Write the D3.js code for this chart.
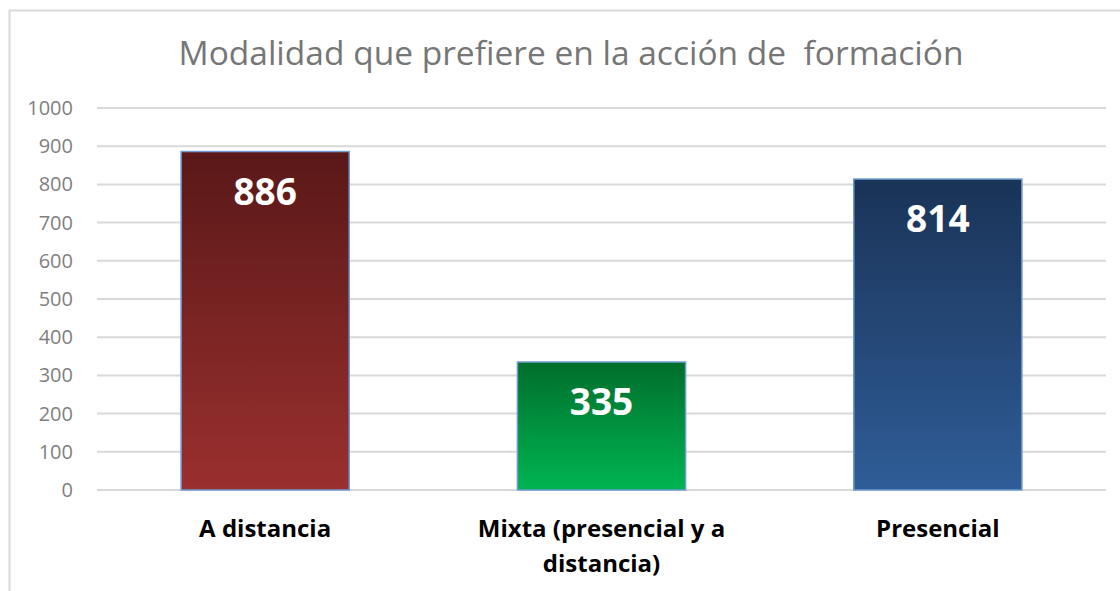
<!DOCTYPE html>
<html>
  <head>
    <meta charset="UTF-8">
    <title>Modalidad</title>
    <script src="https://d3js.org/d3.v7.min.js"></script>
    <style>
      body { margin: 0; background: #fff; }
      text { font-family: "Open Sans", "Noto Sans", sans-serif; }
    </style>
  </head>
  <body>
    <svg id="chart" width="1120" height="591"></svg>
    <script>
      // data
      const categories = ["A distancia", "Mixta (presencial y a distancia)", "Presencial"];
      const categoryLines = [["A distancia"], ["Mixta (presencial y a", "distancia)"], ["Presencial"]];
      const values = [886, 335, 814];
      const yTicks = [0, 100, 200, 300, 400, 500, 600, 700, 800, 900, 1000];
      const gradColors = [["#5a1818", "#9a302f"], ["#006e2c", "#00b552"], ["#1a3357", "#2f5d97"]];

      const svg = d3.select("#chart");
      const margin = { left: 97, right: 14, top: 108, bottom: 101 };
      const W = 1120, H = 591;

      // chart border
      svg.append("path")
        .attr("d", `M9.5,${H} V10.5 H${W}`)
        .attr("fill", "none")
        .attr("stroke", "#d9d9d9")
        .attr("stroke-width", 2);

      const x = d3.scaleBand()
        .domain(categories)
        .range([margin.left, W - margin.right])
        .paddingInner(0.5)
        .paddingOuter(0.25);

      const y = d3.scaleLinear()
        .domain([0, 1000])
        .range([H - margin.bottom, margin.top]);

      // gridlines
      svg.append("g").selectAll("line")
        .data(yTicks)
        .join("line")
        .attr("x1", margin.left)
        .attr("x2", W - margin.right)
        .attr("y1", d => y(d))
        .attr("y2", d => y(d))
        .attr("stroke", "#d9d9d9")
        .attr("stroke-width", 2);

      // y tick labels
      svg.append("g").selectAll("text")
        .data(yTicks)
        .join("text")
        .attr("x", 73)
        .attr("y", d => y(d))
        .attr("dy", "0.35em")
        .attr("text-anchor", "end")
        .attr("font-size", 20)
        .attr("fill", "#7f7f7f")
        .text(d => d);

      // gradients
      const defs = svg.append("defs");
      gradColors.forEach((c, i) => {
        const g = defs.append("linearGradient")
          .attr("id", "grad" + i)
          .attr("x1", 0).attr("y1", 0).attr("x2", 0).attr("y2", 1);
        g.append("stop").attr("offset", "0%").attr("stop-color", c[0]);
        g.append("stop").attr("offset", "100%").attr("stop-color", c[1]);
      });

      // bars
      svg.append("g").selectAll("rect")
        .data(values)
        .join("rect")
        .attr("x", (d, i) => x(categories[i]))
        .attr("width", x.bandwidth())
        .attr("y", d => y(d))
        .attr("height", d => y(0) - y(d))
        .attr("fill", (d, i) => `url(#grad${i})`)
        .attr("stroke", "#6f9bd1")
        .attr("stroke-width", 1.5);

      // value labels
      svg.append("g").selectAll("text")
        .data(values)
        .join("text")
        .attr("x", (d, i) => x(categories[i]) + x.bandwidth() / 2)
        .attr("y", d => y(d) + 53)
        .attr("text-anchor", "middle")
        .attr("font-size", 37)
        .attr("font-weight", "bold")
        .attr("fill", "#fff")
        .text(d => d);

      // category labels
      const cat = svg.append("g").selectAll("text")
        .data(categories)
        .join("text")
        .attr("x", d => x(d) + x.bandwidth() / 2)
        .attr("y", 537)
        .attr("text-anchor", "middle")
        .attr("font-size", 24)
        .attr("font-weight", "bold")
        .attr("fill", "#000");
      cat.selectAll("tspan")
        .data((d, i) => categoryLines[i])
        .join("tspan")
        .attr("x", function () { return d3.select(this.parentNode).attr("x"); })
        .attr("dy", (d, j) => j === 0 ? 0 : 35)
        .text(d => d);

      // title
      svg.append("text")
        .attr("x", 571)
        .attr("y", 65)
        .attr("text-anchor", "middle")
        .attr("font-size", 33.5)
        .attr("fill", "#767676")
        .attr("xml:space", "preserve")
        .text("Modalidad que prefiere en la acción de  formación");
    </script>
  </body>
</html>
